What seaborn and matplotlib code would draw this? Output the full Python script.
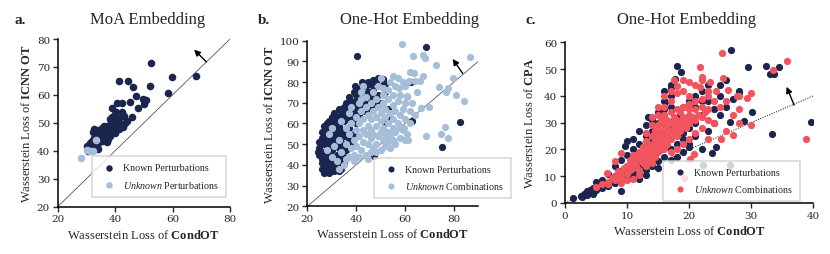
import matplotlib
matplotlib.use("Agg")
import matplotlib.pyplot as plt
import numpy as np
import pandas as pd
import seaborn as sns

# colours
NAVY = "#1b2650"
LIGHT = "#a6bed8"
RED = "#f2545d"

# ---- panel a: MoA embedding (x = CondOT loss, y = ICNN OT loss)
a_known_x = [52.5, 59.9, 68.0, 58.3, 41.4, 44.5, 46.1, 52.0, 47.2, 49.6, 50.6, 49.9, 45.3, 40.8,
             42.4, 47.9, 39.0, 38.8, 40.2, 42.3, 46.0, 41.2, 38.3, 43.3, 44.3, 41.7, 40.3, 37.3,
             36.7, 35.3, 33.8, 32.8, 39.0, 37.6, 36.1, 34.7, 33.0, 36.8, 34.7, 32.6, 35.9, 34.2,
             32.6, 31.3, 30.3, 32.8, 30.6, 31.5, 40.5, 39.8, 41.2, 40.0, 38.2, 37.5, 33.7, 34.5,
             35.7, 32.2, 41.1, 42.6, 36.0, 38.5, 35.0, 33.5, 37.0, 39.5, 43.0, 31.8, 34.0, 36.5]
a_known_y = [71.3, 66.5, 66.6, 60.8, 65.0, 65.0, 62.9, 63.3, 59.6, 58.7, 58.3, 56.7, 57.3, 57.0,
             57.0, 55.4, 55.3, 52.0, 54.0, 53.8, 52.0, 51.7, 51.4, 49.9, 50.8, 49.6, 48.7, 48.7,
             48.0, 48.2, 47.4, 47.7, 47.2, 47.0, 46.2, 46.0, 46.0, 44.9, 44.5, 44.5, 43.6, 42.8,
             42.4, 42.8, 41.8, 41.0, 39.8, 40.6, 50.8, 53.0, 47.8, 46.4, 45.4, 44.2, 41.8, 47.0,
             47.0, 46.6, 49.9, 48.4, 48.8, 50.0, 45.5, 44.0, 43.0, 48.0, 52.5, 43.5, 40.5, 46.8]
a_unknown_x = [28.2, 30.3, 32.2, 33.2, 31.3]
a_unknown_y = [37.3, 40.4, 39.9, 43.9, 40.0]

# ---- panel b: One-hot embedding, combinations
b_known_x = [25, 25, 26, 26, 26, 27, 27, 27, 27, 28, 28, 28, 28, 28, 29, 29, 29, 29, 29, 30,
             30, 30, 30, 30, 30, 31, 31, 31, 31, 31, 32, 32, 32, 32, 32, 33, 33, 33, 33, 33,
             33, 34, 34, 34, 34, 35, 35, 35, 35, 35, 36, 36, 36, 36, 37, 37, 37, 37, 38, 38,
             38, 39, 39, 39, 40, 40, 40, 41, 41, 42, 42, 43, 43, 44, 44, 45, 45, 46, 46, 47,
             47, 48, 48, 49, 50, 50, 51, 51.9, 52, 53, 52, 53, 40.4, 68.6, 62.6, 82.7, 75.3,
             47.4, 62.9, 27, 26, 24.5, 36.5, 39.5, 42.5, 45.5,
             26, 27, 28, 29, 30, 31, 32, 29, 27, 28, 30, 31, 33, 34, 35, 32, 34, 36, 38, 40,
             41, 43, 45, 47, 49, 26, 25]
b_known_y = [45, 48, 43, 50, 53, 40, 46, 55, 59, 37, 42, 49, 52, 57, 36, 39, 45, 54, 61, 38,
             41, 47, 51, 56, 63, 37, 43, 53, 60, 65, 40, 45, 50, 57, 62, 37, 43, 48, 55, 59,
             67, 41, 51, 57, 64, 44, 49, 54, 61, 68, 47, 56, 63, 70, 52, 58, 67, 73, 50, 62,
             71, 55, 65, 75, 60, 68, 74, 64, 72, 69, 77, 66, 74, 71, 78, 67, 75, 73, 79, 68,
             76, 70, 80, 74, 78, 70, 81.5, 79.1, 75, 67, 60, 62, 92.8, 97.1, 79.9, 60.6, 48.8,
             44.1, 61.4, 36, 38, 46, 66, 78, 80, 72,
             41, 43, 45, 42, 44, 40, 38, 48, 51, 60, 60, 57, 63, 38, 41, 54, 66, 66, 69, 71,
             76, 79, 80, 81, 82, 56, 51]
b_unknown_x = [28, 30, 31, 32, 33, 29, 34, 35, 33, 36, 30, 34,
               36, 37, 38, 38, 39, 39, 40, 40, 37, 38, 39, 40, 36, 37,
               41, 41, 42, 42, 42, 43, 43, 43, 44, 44, 44, 45, 45, 45, 41, 42, 43, 44, 45, 41,
               46, 46, 46, 46, 47, 47, 47, 47, 48, 48, 48, 48, 49, 49, 49, 50, 50, 50, 50, 50,
               46, 48,
               51, 51, 51, 51, 52, 52, 52, 52, 53, 53, 53, 53, 54, 54, 54, 55, 55, 55, 55, 55,
               51, 53, 54,
               56, 56, 56, 57, 57, 57, 58, 58, 58, 59, 59, 59, 60, 60, 61, 61, 62, 62, 56, 58, 60,
               58.9, 86.7, 67.5, 72.6, 63.4, 79.6, 84.2, 80.9, 76.8, 77.5, 74.1, 70.0, 66.6,
               76.2, 77.4, 74.7, 68.4, 61.5, 64.2, 66.0, 67.3, 61.9, 63.6, 54.9, 57.7, 60.8,
               59.5, 61.2, 58.4, 68.0, 65.0, 63.0, 60.0, 64.0]
b_unknown_y = [47, 44, 49, 42, 52, 55, 46, 40, 38, 43, 58, 61,
               50, 55, 48, 60, 52, 45, 57, 63, 65, 68, 42, 49, 58, 44,
               54, 60, 47, 66, 72, 51, 57, 62, 45, 55, 68, 50, 59, 64, 70, 75, 78, 73, 43, 44,
               53, 57, 62, 70, 48, 55, 66, 75, 50, 59, 63, 72, 54, 68, 78, 47, 56, 61, 65, 82,
               46, 46,
               52, 58, 70, 74, 49, 55, 63, 67, 51, 60, 72, 76, 54, 65, 80, 52, 58, 62, 69, 74,
               77, 56, 48,
               56, 66, 78, 60, 71, 82, 53, 64, 74, 57, 67, 80, 62, 70, 55, 73, 60, 66, 50, 58, 52,
               98.2, 92.0, 93.1, 88.2, 92.4, 82.0, 71.0, 73.9, 75.4, 77.0, 77.5, 67.8, 67.5,
               58.5, 53.0, 54.9, 53.8, 80.7, 80.7, 80.7, 83.1, 85.0, 84.4, 82.8, 77.0, 73.4,
               57.7, 52.0, 58.1, 91.5, 75.0, 70.0, 78.0, 64.0]

# ---- panel c: One-hot embedding, CPA vs CondOT
c_known_x = [1.3, 2.7, 3, 3.5, 4, 4.5, 5, 5.5, 6, 6.5, 7, 3, 4, 5, 6, 7.5, 8, 8.5, 9, 9.1,
             9.5, 10, 10, 10.5, 11, 11, 11.5, 12, 12, 12.5, 13, 13, 13.5, 14, 14, 14.5, 15,
             15, 15.5, 16, 16, 16.5, 17, 17, 17.5, 18, 18, 18.5, 19, 19, 20, 20, 21, 21, 22,
             12, 13, 14, 10, 11, 9, 8, 7, 15, 16, 17, 16, 17, 18.1, 18.7, 17.7, 17, 16, 23,
             24, 22, 23, 25, 26, 26.7, 29.5, 32.4, 33.1, 33.6, 34.5, 39.6, 33.3, 28.0, 30.1,
             28.9, 26.6, 24.3, 23.7, 22.3, 26.6, 19, 20, 21, 22, 23, 24, 25, 27, 28, 13, 14,
             11, 12, 9, 10, 8, 6, 5, 2.5, 3.5, 4.5, 12, 13, 15, 17, 18, 19, 20, 10, 11, 12,
             13, 14, 15, 16, 17, 22, 21, 25, 26, 9.7, 13.4, 16.1]
c_known_y = [1.9, 2.1, 3.5, 4.5, 4, 5.5, 4.8, 6, 5.5, 7, 6.5, 3, 5, 6, 7, 8, 7.5, 9.5, 8.5, 4.4,
             10.5, 9, 12, 11, 10, 13.5, 12.5, 11, 15, 14, 12.5, 17, 16, 14, 19, 18, 15.5,
             21, 20, 17, 23, 25, 20, 28, 31, 22, 26, 33, 24, 36, 28, 38, 30, 40, 33,
             22, 25, 27, 18, 20, 16, 14, 11, 30, 33, 36, 38, 40, 51.3, 48.8, 46.3, 43, 42, 38,
             35, 42, 44, 40, 36, 57.1, 50.9, 51.3, 48.1, 48.1, 50.9, 30.1, 25.6, 41.1, 34.1,
             30.7, 30.1, 20.8, 18.6, 14.3, 14.3, 26, 22, 25, 20, 27, 30, 33, 39, 42, 20, 23,
             16, 18, 12, 14, 10, 8.5, 8, 2.5, 3, 3.5, 9, 10.5, 13, 16, 17, 19, 21, 23, 24, 27,
             29, 31, 34, 35, 44, 38, 36, 44, 46, 21.4, 32, 37.6]
c_unknown_x = [6.8, 8, 9.1, 7, 7.5, 8, 8.5, 9, 9, 9.5, 10, 10, 10.5, 10.5, 11, 11, 11, 11.5,
               11.5, 12, 12, 12, 12.5, 12.5, 12.5, 13, 13, 13, 13, 13.5, 13.5, 13.5, 14, 14,
               14, 14, 14.5, 14.5, 14.5, 14.5, 15, 15, 15, 15, 15.5, 15.5, 15.5, 15.5, 16, 16,
               16, 16, 16, 16.5, 16.5, 16.5, 16.5, 17, 17, 17, 17, 17.5, 17.5, 17.5, 18, 18,
               18, 18, 18.5, 18.5, 18.5, 19, 19, 19, 19.5, 19.5, 20, 20, 20, 20.5, 21, 21,
               21.5, 22, 22, 22.5, 23, 23, 13, 14, 15, 16, 17, 17.6, 18, 21.8, 23.4, 24.4,
               26.3, 27.7, 25.3, 35.8, 33.5, 21.7, 25.5, 29.9, 29.9, 38.9, 29.3, 28.1, 25.2,
               27, 20.8, 20.1, 19.1, 18, 19, 20, 22, 22, 23, 24, 25, 26, 27, 28, 24, 22, 21,
               20, 19, 18, 17, 23, 26, 28, 12, 11, 10, 5, 6, 7, 8, 9, 19, 20, 21, 16, 17, 15,
               14, 20, 21, 22, 23]
c_unknown_y = [11.1, 15.6, 18.6, 8, 9.5, 10, 12, 9.5, 11, 13, 11, 14, 12.5, 16, 13, 15, 18, 14,
               17, 12.5, 16, 19, 15, 18, 21, 14, 17, 20, 23, 16, 19, 22, 15, 18, 21, 25, 17,
               20, 23, 27, 19, 22, 25, 29, 21, 24, 27, 31, 20, 23, 26, 29, 33, 22, 25, 28, 31,
               24, 27, 30, 34, 26, 29, 32, 25, 28, 31, 35, 27, 30, 34, 29, 32, 36, 28, 31, 30,
               33, 37, 32, 31, 35, 33, 32, 36, 34, 35, 31, 26, 29, 33, 36, 38, 46.1, 43.6, 43.3,
               45.3, 42, 42.2, 40.1, 56, 53.1, 49.5, 50.6, 46.6, 41.1, 29.3, 23.8, 39.3, 40.1,
               23.9, 25.4, 18.2, 16.5, 9.4, 41, 42, 45, 47, 46, 40, 38, 36, 38, 33, 35, 30, 28,
               26, 24, 22, 20, 19, 24, 27, 30, 10.5, 9, 8.5, 6, 7, 7, 8.5, 7.5, 46, 40, 44, 40,
               42, 36, 32, 35, 38, 39, 42]

sns.set_style("ticks")
plt.rcParams["font.family"] = ["Liberation Serif", "DejaVu Serif"]
plt.rcParams["mathtext.fontset"] = "custom"
plt.rcParams["mathtext.rm"] = "Liberation Serif"
plt.rcParams["mathtext.bf"] = "Liberation Serif:weight=bold"
plt.rcParams["mathtext.it"] = "Liberation Serif:style=italic"

fig = plt.figure(figsize=(8.3, 2.55), dpi=100)
ax_a = fig.add_axes([0.0695, 0.1855, 0.2076, 0.6576])
ax_b = fig.add_axes([0.3702, 0.1871, 0.2061, 0.6494])
ax_c = fig.add_axes([0.6807, 0.2000, 0.2992, 0.6302])

def panel(ax, kx, ky, ux, uy, ucol, ulabel, size, lim_x, lim_y):
    sns.scatterplot(x=kx, y=ky, ax=ax, color=NAVY, s=size, linewidth=0,
                    label="Known Perturbations", zorder=3)
    sns.scatterplot(x=ux, y=uy, ax=ax, color=ucol, s=size, linewidth=0,
                    label=ulabel, zorder=3)
    ax.set_xlim(*lim_x)
    ax.set_ylim(*lim_y)
    sns.despine(ax=ax)
    for sp in ax.spines.values():
        sp.set_linewidth(1.1)
        sp.set_color("black")
    ax.tick_params(direction="out", length=3.5, width=1.0, labelsize=7.5, pad=2)

panel(ax_a, a_known_x, a_known_y, a_unknown_x, a_unknown_y, LIGHT,
      r"$\mathit{Unknown}$ Perturbations", 30, (20, 80), (20, 80))
panel(ax_b, b_known_x, b_known_y, b_unknown_x, b_unknown_y, LIGHT,
      r"$\mathit{Unknown}$ Combinations", 27, (20, 90), (20, 100))
panel(ax_c, c_known_x, c_known_y, c_unknown_x, c_unknown_y, RED,
      r"$\mathit{Unknown}$ Combinations", 27, (0, 40), (0, 60))

ax_a.set_xticks([20, 40, 60, 80])
ax_a.set_yticks(range(20, 81, 10))
ax_b.set_xticks([20, 40, 60, 80])
ax_b.set_yticks(range(20, 101, 10))
ax_c.set_xticks(range(0, 41, 10))
ax_c.set_yticks(range(0, 61, 10))
for ax in (ax_a, ax_b, ax_c):
    for lab in ax.get_xticklabels() + ax.get_yticklabels():
        lab.set_family("DejaVu Serif")

# diagonals and arrows
ax_a.plot([20, 80], [20, 80], color="#555555", lw=0.6, zorder=1)
ax_b.plot([20, 90], [20, 90], color="#555555", lw=0.6, zorder=1)
ax_c.plot([0, 40], [0, 40], color="#333333", lw=0.8, ls=(0, (1, 1.2)), zorder=1)
arrow = dict(arrowstyle="-|>", color="black", lw=1.0, mutation_scale=9,
             shrinkA=0, shrinkB=0)
ax_a.annotate("", xy=(67.5, 76.2), xytext=(71.8, 71.8), arrowprops=arrow)
ax_b.annotate("", xy=(79.5, 91.2), xytext=(83.6, 84.2), arrowprops=arrow)
ax_c.annotate("", xy=(35.7, 43.4), xytext=(36.9, 36.6), arrowprops=arrow)

xl = r"Wasserstein Loss of $\mathbf{CondOT}$"
for ax in (ax_a, ax_b, ax_c):
    ax.set_xlabel(xl, fontsize=9, labelpad=3)
ax_a.set_ylabel(r"Wasserstein Loss of $\mathbf{ICNN\ OT}$", fontsize=9, labelpad=3)
ax_b.set_ylabel(r"Wasserstein Loss of $\mathbf{ICNN\ OT}$", fontsize=9, labelpad=3)
ax_c.set_ylabel(r"Wasserstein Loss of $\mathbf{CPA}$", fontsize=9, labelpad=6)

leg_kw = dict(fontsize=7.2, frameon=True, fancybox=False, framealpha=0.8,
              edgecolor="#d0d0d0", handletextpad=0.4, borderpad=0.7,
              labelspacing=0.65, markerscale=0.85, borderaxespad=0)
for ax, anchor in ((ax_a, (0.2, 0.058)), (ax_b, (0.39, 0.05)), (ax_c, (0.395, 0.012))):
    leg = ax.legend(loc="lower left", bbox_to_anchor=anchor, **leg_kw)
    leg.get_frame().set_linewidth(1.2)
    leg.set_zorder(5)

# titles and panel letters
fig.text(0.178, 0.92, "MoA Embedding", ha="center", va="center", fontsize=12)
fig.text(0.494, 0.92, "One-Hot Embedding", ha="center", va="center", fontsize=12)
fig.text(0.827, 0.92, "One-Hot Embedding", ha="center", va="center", fontsize=12)
for xx, t in ((0.017, "a."), (0.311, "b."), (0.633, "c.")):
    fig.text(xx, 0.92, t, ha="left", va="center", fontsize=11, fontweight="bold")

fig.savefig("out.png", dpi=100)
